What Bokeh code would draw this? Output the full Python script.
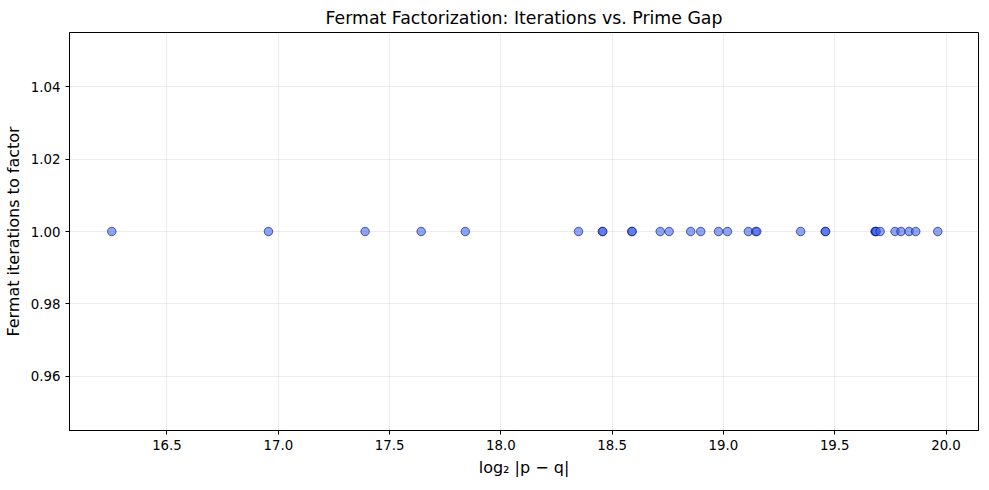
from bokeh.plotting import figure
from bokeh.models import Range1d, FixedTicker, NumeralTickFormatter
from bokeh.embed import file_html
from bokeh.resources import INLINE

log2_gap = [16.252, 16.956, 17.390, 17.642, 17.840,
            18.349, 18.456, 18.458, 18.588, 18.590, 18.716, 18.756,
            18.853, 18.898, 18.978, 19.018, 19.112, 19.145, 19.150,
            19.347, 19.457, 19.459, 19.681, 19.684, 19.686, 19.704,
            19.771, 19.798, 19.834, 19.864, 19.963]
iterations = [1] * len(log2_gap)

x_ticks = [16.5, 17.0, 17.5, 18.0, 18.5, 19.0, 19.5, 20.0]
y_ticks = [0.96, 0.98, 1.00, 1.02, 1.04]

FONT = "DejaVu Sans"

p = figure(width=973, height=474, output_backend="svg", toolbar_location=None,
           x_range=Range1d(16.062, 20.146), y_range=Range1d(0.945, 1.055),
           title="Fermat Factorization: Iterations vs. Prime Gap",
           min_border_left=63, min_border_right=1, min_border_top=24, min_border_bottom=52)
p.frame_width = 909
p.frame_height = 398

p.title.align = "center"
p.title.text_font = FONT
p.title.text_font_size = "13pt"
p.title.text_font_style = "normal"
p.title.text_color = "black"

p.scatter(log2_gap, iterations, size=8.5, fill_color="royalblue", fill_alpha=0.6,
          line_color="darkblue", line_alpha=0.6, line_width=1)

p.outline_line_color = "black"
p.outline_line_width = 1
p.outline_line_alpha = 1

for ax in (p.xaxis[0], p.yaxis[0]):
    ax.axis_line_color = "black"
    ax.major_tick_line_color = "black"
    ax.minor_tick_line_color = None
    ax.major_tick_out = 4
    ax.major_tick_in = 0
    ax.major_label_text_font = FONT
    ax.major_label_text_font_size = "10pt"
    ax.major_label_text_color = "black"
    ax.axis_label_text_font = FONT
    ax.axis_label_text_font_size = "12pt"
    ax.axis_label_text_font_style = "normal"
    ax.axis_label_text_color = "black"

p.xaxis.ticker = FixedTicker(ticks=x_ticks)
p.yaxis.ticker = FixedTicker(ticks=y_ticks)
p.xaxis.formatter = NumeralTickFormatter(format="0.0")
p.yaxis.formatter = NumeralTickFormatter(format="0.00")
p.xaxis.axis_label = "log\u2082 |p \u2212 q|"
p.yaxis.axis_label = "Fermat iterations to factor"

p.xgrid.ticker = FixedTicker(ticks=x_ticks)
p.ygrid.ticker = FixedTicker(ticks=y_ticks)
p.grid.grid_line_color = "#b0b0b0"
p.grid.grid_line_alpha = 0.3
p.grid.grid_line_width = 0.8

open("out.html", "w").write(file_html(p, INLINE))
